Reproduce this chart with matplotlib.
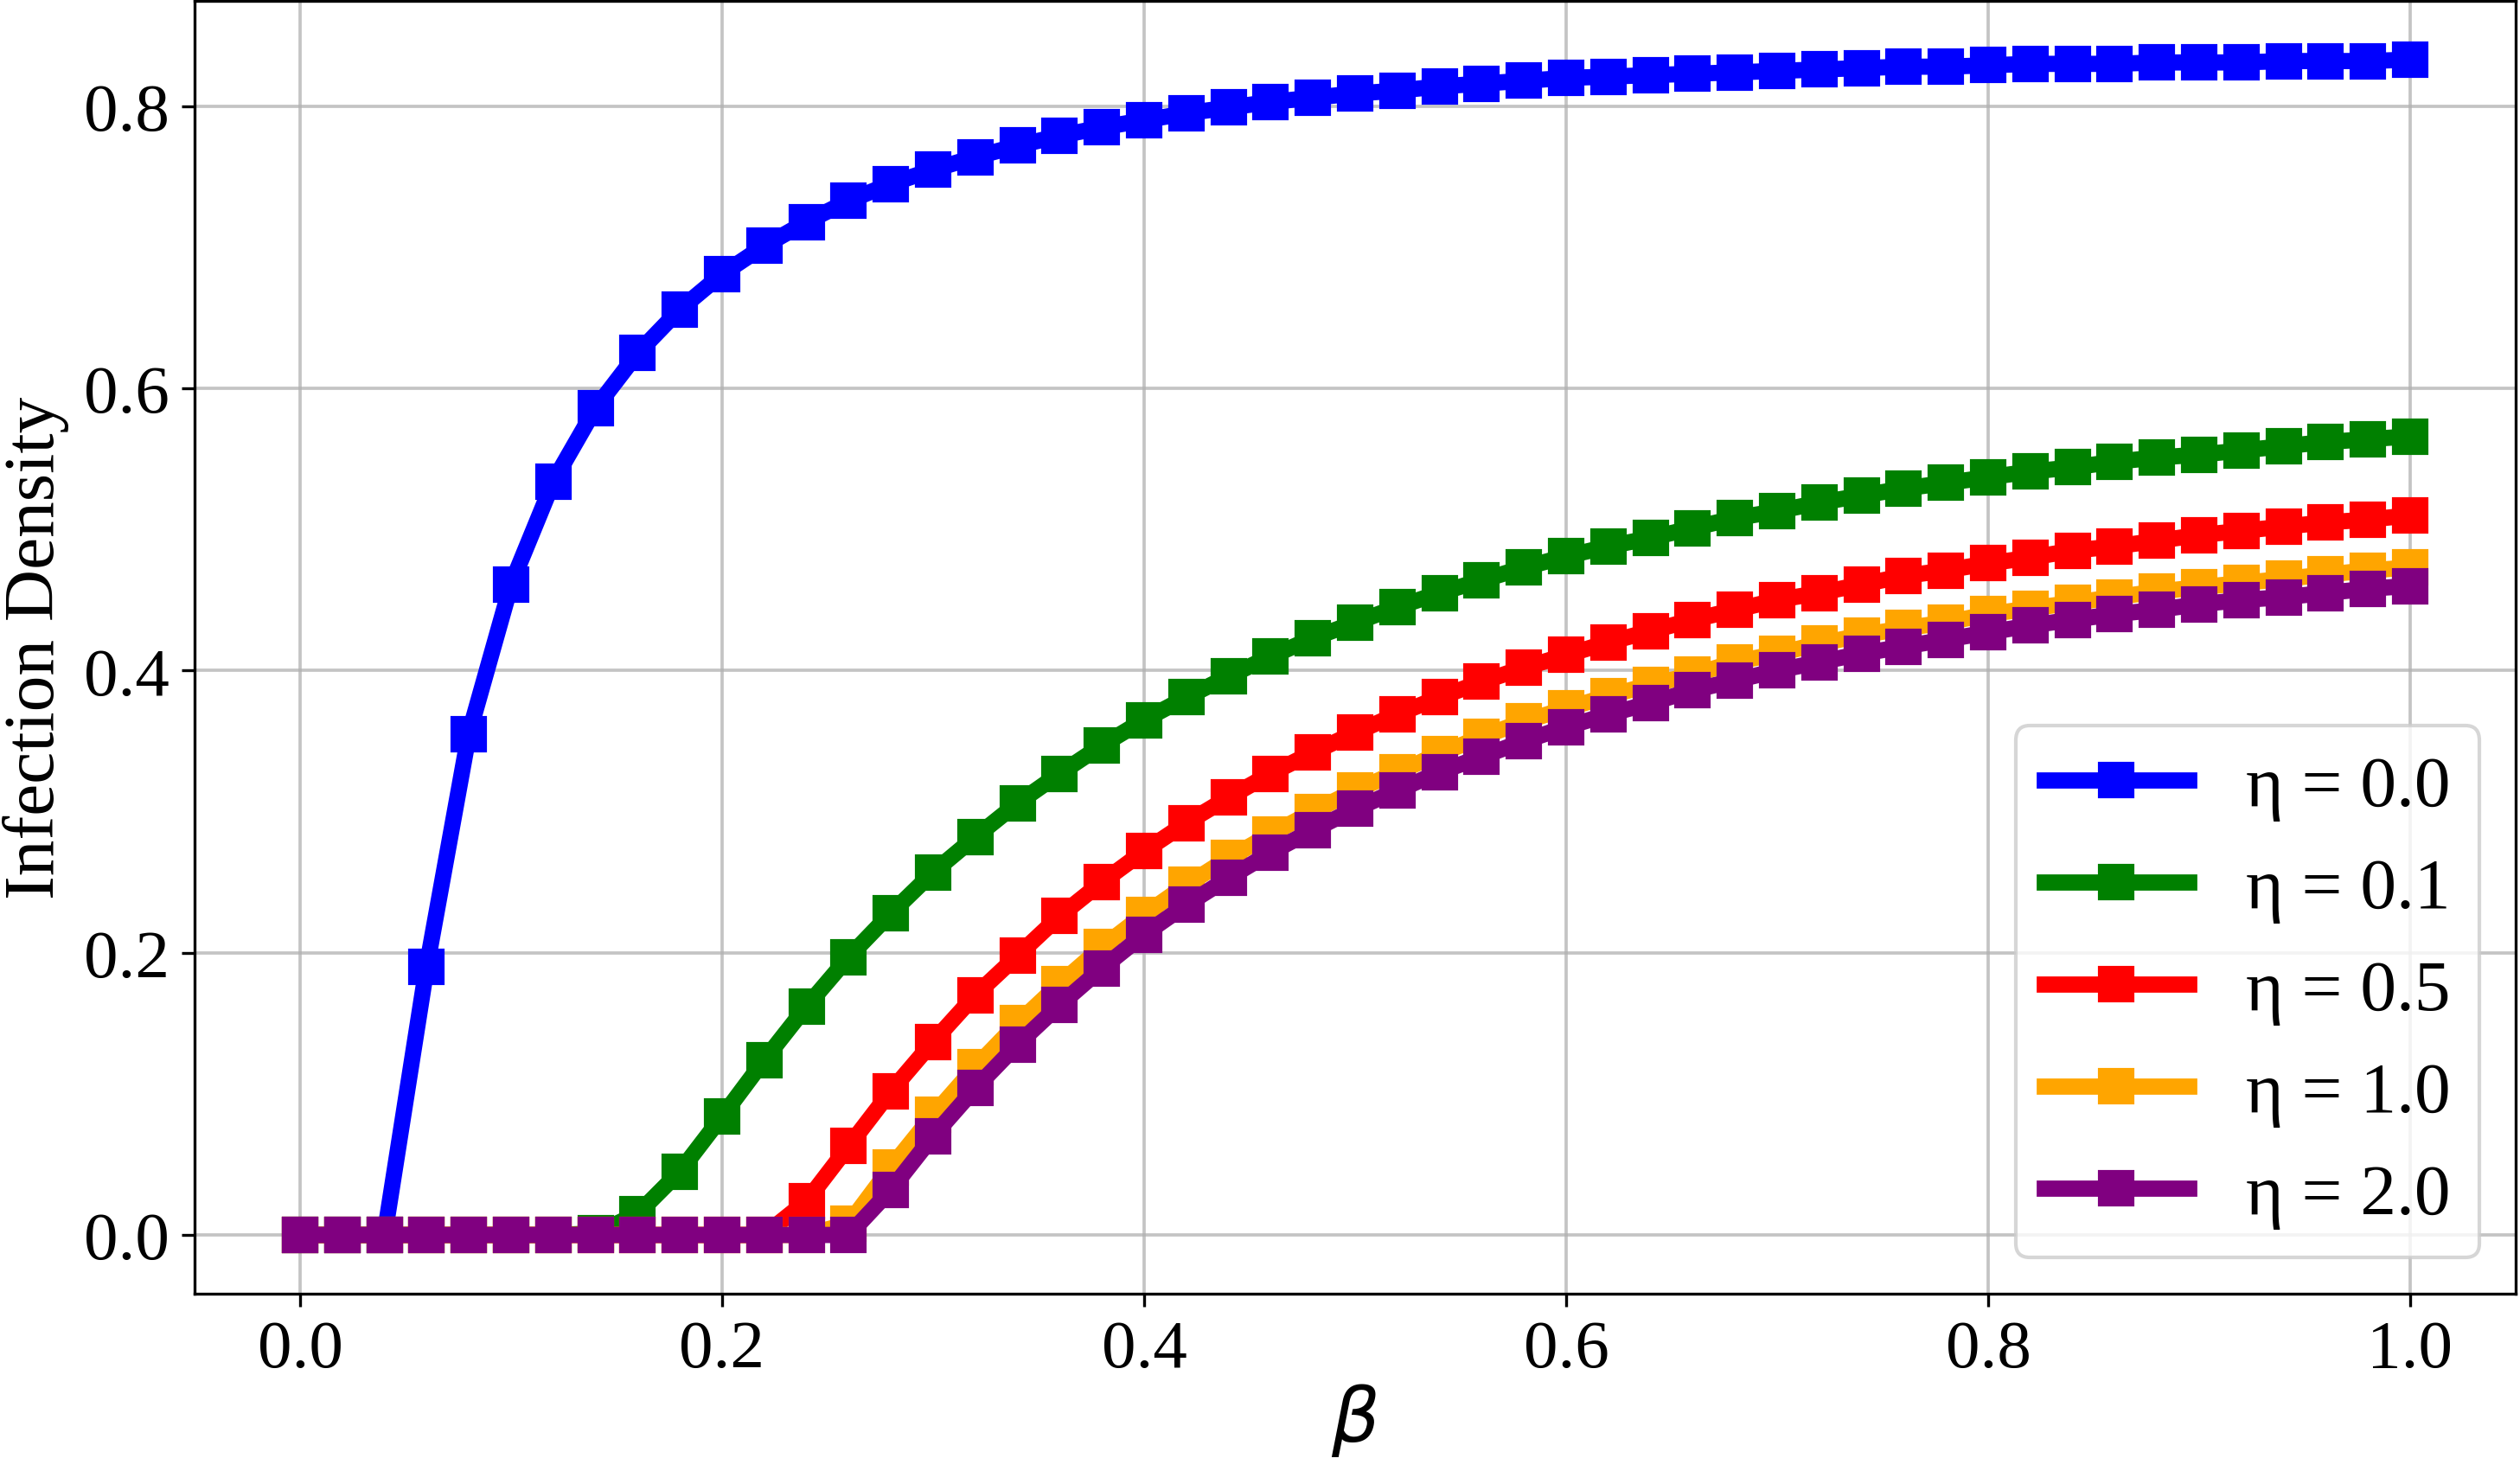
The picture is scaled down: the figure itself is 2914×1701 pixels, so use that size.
import matplotlib
matplotlib.use("Agg")
import matplotlib.pyplot as plt

plt.rcParams['font.family'] = ['Liberation Serif', 'DejaVu Serif']
plt.rcParams['mathtext.fontset'] = 'dejavusans'

beta = [0.00, 0.02, 0.04, 0.06, 0.08, 0.10, 0.12, 0.14, 0.16, 0.18,
        0.20, 0.22, 0.24, 0.26, 0.28, 0.30, 0.32, 0.34, 0.36, 0.38,
        0.40, 0.42, 0.44, 0.46, 0.48, 0.50, 0.52, 0.54, 0.56, 0.58,
        0.60, 0.62, 0.64, 0.66, 0.68, 0.70, 0.72, 0.74, 0.76, 0.78,
        0.80, 0.82, 0.84, 0.86, 0.88, 0.90, 0.92, 0.94, 0.96, 0.98, 1.00]

eta_00 = [0, 0, 0, 0.190, 0.355, 0.461, 0.534, 0.586, 0.625, 0.656,
          0.681, 0.701, 0.718, 0.733, 0.745, 0.755, 0.764, 0.772, 0.779, 0.785,
          0.790, 0.795, 0.799, 0.803, 0.806, 0.809, 0.811, 0.814, 0.816, 0.818,
          0.820, 0.821, 0.822, 0.823, 0.824, 0.825, 0.826, 0.827, 0.828, 0.828,
          0.829, 0.830, 0.830, 0.830, 0.831, 0.831, 0.831, 0.832, 0.832, 0.832, 0.833]

eta_01 = [0, 0, 0, 0, 0, 0, 0, 0.001, 0.015, 0.045,
          0.084, 0.124, 0.162, 0.197, 0.228, 0.257, 0.282, 0.306, 0.327, 0.347,
          0.365, 0.381, 0.396, 0.410, 0.423, 0.434, 0.445, 0.455, 0.464, 0.473,
          0.481, 0.488, 0.494, 0.501, 0.508, 0.513, 0.519, 0.524, 0.529, 0.533,
          0.537, 0.541, 0.544, 0.548, 0.551, 0.553, 0.556, 0.559, 0.562, 0.564, 0.566]

eta_05 = [0, 0, 0, 0, 0, 0, 0, 0, 0, 0,
          0, 0, 0.024, 0.063, 0.102, 0.137, 0.170, 0.198, 0.226, 0.250,
          0.272, 0.292, 0.310, 0.327, 0.342, 0.356, 0.369, 0.381, 0.392, 0.402,
          0.411, 0.420, 0.428, 0.436, 0.443, 0.450, 0.455, 0.461, 0.467, 0.471,
          0.476, 0.480, 0.485, 0.488, 0.492, 0.496, 0.499, 0.502, 0.505, 0.507, 0.510]

eta_10 = [0, 0, 0, 0, 0, 0, 0, 0, 0, 0,
          0, 0, 0, 0.008, 0.048, 0.085, 0.119, 0.150, 0.178, 0.204,
          0.227, 0.248, 0.267, 0.284, 0.300, 0.315, 0.328, 0.341, 0.353, 0.364,
          0.373, 0.382, 0.390, 0.397, 0.406, 0.412, 0.419, 0.425, 0.430, 0.434,
          0.440, 0.444, 0.448, 0.452, 0.456, 0.459, 0.462, 0.465, 0.468, 0.471, 0.473]

eta_20 = [0, 0, 0, 0, 0, 0, 0, 0, 0, 0,
          0, 0, 0, 0, 0.032, 0.070, 0.104, 0.135, 0.163, 0.189,
          0.213, 0.234, 0.253, 0.271, 0.287, 0.302, 0.315, 0.328, 0.339, 0.350,
          0.360, 0.369, 0.377, 0.386, 0.393, 0.400, 0.406, 0.412, 0.417, 0.422,
          0.427, 0.432, 0.436, 0.440, 0.443, 0.447, 0.450, 0.452, 0.455, 0.458, 0.460]

labels = ["η = 0.0", "η = 0.1", "η = 0.5", "η = 1.0", "η = 2.0"]
colors = ["blue", "green", "red", "orange", "purple"]
series = [eta_00, eta_01, eta_05, eta_10, eta_20]

W, H, DPI = 2914, 1702, 300
fig = plt.figure(figsize=(W / DPI, H / DPI), dpi=DPI)
ax = fig.add_axes([225 / W, 1 - 1497 / H, (2909 - 225) / W, (1497 - 2) / H])

for ys, c, lab in zip(series, colors, labels):
    ax.plot(beta, ys, color=c, marker='s', markersize=9, linewidth=4.5, label=lab)

ax.grid(True, color='#b0b0b0', alpha=0.75, linewidth=0.9)
ax.set_axisbelow(True)
ax.set_xticks([0.0, 0.2, 0.4, 0.6, 0.8, 1.0])
ax.set_yticks([0.0, 0.2, 0.4, 0.6, 0.8])
ax.tick_params(labelsize=19)
ax.set_xlabel(r'$\beta$', fontsize=21, labelpad=0)
ax.set_ylabel('Infection Density', fontsize=20)
ax.legend(loc='lower right', fontsize=20)

fig.savefig('out.png', dpi=DPI)
